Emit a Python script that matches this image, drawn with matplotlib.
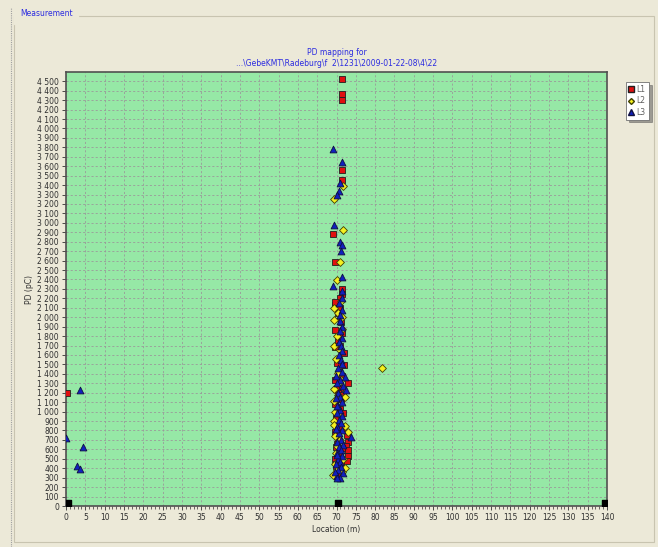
import matplotlib
matplotlib.use("Agg")
import matplotlib.pyplot as plt
from matplotlib.ticker import MultipleLocator, FuncFormatter
from matplotlib.patches import Rectangle
from matplotlib.lines import Line2D

# ---- data (location in m, PD in pC) ----
l1_x = [71.4, 71.4, 71.4, 71.4, 71.4, 69.1, 69.6, 71.4, 71.4, 71.0, 69.6, 71.0,
        70.3, 71.2, 69.7, 71.4, 70.8, 69.6, 72.0, 70.0, 72.0, 70.6, 71.3, 69.6,
        73.0, 71.0, 70.4, 71.2, 69.6, 70.8, 71.6, 69.8, 70.6, 71.4, 72.6, 70.4,
        73.0, 72.4, 69.8, 73.0, 70.8, 73.0, 69.6, 71.2, 69.9, 71.0, 70.2, 0.2,
        69.6, 70.4, 69.8, 71.8, 69.6, 70.2, 71.4, 69.8, 70.6, 72.8]
l1_y = [4520, 4370, 4300, 3560, 3450, 2880, 2580, 2300, 2250, 2200, 2130, 2100,
        2050, 1950, 1860, 1830, 1700, 1680, 1620, 1520, 1490, 1420, 1380, 1330,
        1300, 1250, 1200, 1130, 1080, 1030, 980, 930, 870, 820, 750, 700,
        680, 640, 620, 590, 560, 530, 500, 470, 420, 380, 340, 1200,
        2160, 1760, 1240, 1180, 780, 660, 610, 450, 400, 480]

l2_x = [71.6, 69.4, 71.6, 71.0, 70.1, 71.2, 69.3, 70.3, 71.3, 69.3, 71.5, 70.2,
        69.3, 71.0, 69.8, 81.8, 70.5, 71.2, 69.4, 70.3, 72.1, 69.3, 69.5, 71.0,
        69.3, 69.3, 72.2, 73.0, 69.6, 71.0, 70.2, 69.8, 71.8, 69.6, 72.1, 70.0,
        71.5, 69.2]
l2_y = [3390, 3250, 2920, 2590, 2390, 2170, 2100, 2050, 2000, 1970, 1880, 1800,
        1700, 1650, 1560, 1460, 1410, 1330, 1240, 1180, 1150, 1110, 1000, 960,
        900, 860, 850, 780, 740, 700, 640, 560, 500, 450, 400, 380,
        360, 330]

l3_x = [69.2, 71.4, 71.0, 70.6, 70.0, 69.3, 71.0, 71.4, 71.2, 71.3, 69.2, 71.4,
        71.4, 70.6, 71.4, 71.0, 70.8, 71.4, 71.0, 71.4, 70.6, 71.2, 71.4, 70.6,
        71.2, 71.4, 70.4, 71.4, 72.2, 71.0, 70.0, 71.6, 72.4, 70.4, 71.0, 69.8,
        71.4, 70.4, 71.0, 70.0, 71.4, 70.6, 71.2, 70.0, 71.4, 70.6, 73.8, 71.2,
        70.0, 71.6, 70.6, 71.2, 70.0, 71.4, 70.4, 71.0, 69.8, 71.2, 70.4, 71.6,
        70.0, 71.0, 3.7, 0.1, 4.5, 2.8, 3.6,
        69.8, 70.2, 69.8, 70.0, 69.6, 70.2]
l3_y = [3780, 3640, 3420, 3340, 3300, 2980, 2800, 2760, 2700, 2430, 2330, 2280,
        2200, 2150, 2080, 2020, 1960, 1900, 1850, 1780, 1740, 1690, 1640, 1600,
        1550, 1500, 1460, 1420, 1370, 1340, 1300, 1270, 1230, 1200, 1160, 1140,
        1100, 1060, 1020, 990, 950, 910, 880, 840, 800, 770, 730, 700,
        680, 650, 620, 590, 560, 530, 500, 470, 440, 410, 380, 350,
        320, 300, 1230, 720, 630, 420, 390,
        1380, 1060, 820, 540, 360, 300]

# sensor markers on the axis
end_x = [0.5, 70.5, 139.5]
end_y = [30, 30, 30]

title_text = "PD mapping for\n...\\GebeKMT\\Radeburg\\f  2\\1231\\2009-01-22-08\\4\\22"

BG = "#ECE9D8"
PLOT_BG = "#96E8A6"
BLUE_TXT = "#2B2BE0"

fig = plt.figure(figsize=(6.58, 5.47), dpi=100, facecolor=BG)

# group box frame
fig.add_artist(Rectangle((14 / 658, 0.01), 640 / 658, 1 - 16 / 547 - 0.01,
                         transform=fig.transFigure, fill=False,
                         edgecolor="#C8C4B0", linewidth=0.8))
fig.add_artist(Line2D([11 / 658, 11 / 658], [0, 0.985], transform=fig.transFigure,
                      color="#A0A0A0", linewidth=0.8, linestyle=(0, (1, 1))))
fig.text(20 / 658, 1 - 14 / 547, "Measurement", fontsize=5.5, color=BLUE_TXT,
         va="center", ha="left", backgroundcolor=BG)

ax = fig.add_axes([66 / 658, 1 - 506 / 547, 541 / 658, 434 / 547])
ax.set_facecolor(PLOT_BG)

ax.scatter(l1_x, l1_y, marker="s", s=22, c="#E01010", edgecolors="#202020",
           linewidths=0.6, zorder=3)
ax.scatter(l2_x, l2_y, marker="D", s=16, c="#F4F020", edgecolors="#404000",
           linewidths=0.6, zorder=4)
ax.scatter(l3_x, l3_y, marker="^", s=24, c="#1020C0", edgecolors="#101040",
           linewidths=0.6, zorder=5)
ax.scatter(end_x, end_y, marker="s", s=22, c="black", zorder=6)

ax.set_xlim(0, 140)
ax.set_ylim(0, 4598)
ax.xaxis.set_major_locator(MultipleLocator(5))
ax.xaxis.set_minor_locator(MultipleLocator(1))
ax.yaxis.set_major_locator(MultipleLocator(100))
ax.yaxis.set_major_formatter(FuncFormatter(lambda v, p: f"{int(v):,}".replace(",", " ")))

ax.grid(True, which="major", color="#9A9A9A", linestyle=(0, (2.5, 2.5)), linewidth=0.6)
ax.set_axisbelow(True)
ax.tick_params(axis="both", which="major", labelsize=5.5, length=3, width=0.6,
               colors="#303030", pad=2)
ax.tick_params(axis="x", which="minor", length=2, width=0.5, colors="#303030")
for s in ax.spines.values():
    s.set_color("#505050")
    s.set_linewidth(1.2)

ax.set_xlabel("Location (m)", fontsize=5.5, color="#303030", labelpad=2)
ax.set_ylabel("PD (pC)", fontsize=5.5, color="#303030", labelpad=2)
ax.set_title(title_text, fontsize=5.5, color=BLUE_TXT, pad=4, linespacing=1.4)

handles = [
    Line2D([], [], marker="s", linestyle="", markerfacecolor="#E01010",
           markeredgecolor="#202020", markersize=4, label="L1"),
    Line2D([], [], marker="D", linestyle="", markerfacecolor="#F4F020",
           markeredgecolor="#404000", markersize=3, label="L2"),
    Line2D([], [], marker="^", linestyle="", markerfacecolor="#1020C0",
           markeredgecolor="#101040", markersize=4, label="L3"),
]
leg = fig.legend(handles=handles, loc="upper left", bbox_to_anchor=(626 / 658, 1 - 82 / 547),
                 fontsize=5.5, frameon=True, fancybox=False, shadow=True,
                 handlelength=0.6, handletextpad=0.4, borderpad=0.4,
                 labelspacing=0.3, borderaxespad=0)
leg.get_frame().set_edgecolor("#707070")
leg.get_frame().set_linewidth(0.6)
for t in leg.get_texts():
    t.set_color("#606060")

fig.savefig("out.png", dpi=100, facecolor=BG)
